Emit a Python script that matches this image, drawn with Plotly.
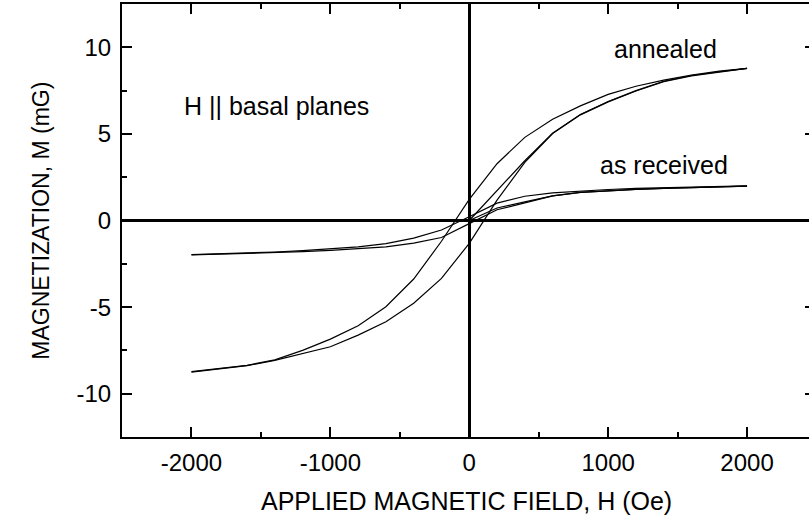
import plotly.graph_objects as go

# Applied field grid (Oe), descending sweep and ascending sweep
field_down = [2000, 1800, 1600, 1400, 1200, 1000, 800, 600, 400, 200, 0,
              -200, -400, -600, -800, -1000, -1200, -1400, -1600, -1800, -2000]
field_up = [-2000, -1800, -1600, -1400, -1200, -1000, -800, -600, -400, -200, 0,
            200, 400, 600, 800, 1000, 1200, 1400, 1600, 1800, 2000]
field_virgin = [0, 200, 400, 600, 800, 1000, 1200, 1400, 1600, 1800, 2000]

# Annealed sample magnetization (mG)
annealed_down = [8.78, 8.62, 8.40, 8.10, 7.75, 7.28, 6.62, 5.85, 4.80, 3.28, 1.22,
                 -1.20, -3.38, -4.98, -6.08, -6.85, -7.50, -8.05, -8.36, -8.56, -8.72]
annealed_up = [-8.76, -8.58, -8.38, -8.08, -7.70, -7.29, -6.62, -5.85, -4.78, -3.34, -1.32,
               1.18, 3.36, 5.02, 6.10, 6.85, 7.48, 8.02, 8.35, 8.58, 8.78]
annealed_virgin = [0.0, 1.75, 3.45, 5.04, 6.12, 6.87, 7.50, 8.04, 8.37, 8.59, 8.78]

# As-received sample magnetization (mG)
received_down = [2.00, 1.97, 1.94, 1.90, 1.85, 1.79, 1.71, 1.60, 1.40, 1.00, 0.22,
                 -0.55, -1.02, -1.33, -1.52, -1.65, -1.74, -1.82, -1.88, -1.93, -1.97]
received_up = [-1.99, -1.95, -1.91, -1.86, -1.80, -1.72, -1.63, -1.52, -1.31, -0.98, -0.18,
               0.62, 1.02, 1.42, 1.62, 1.72, 1.80, 1.86, 1.91, 1.95, 1.99]
received_virgin = [0.0, 0.72, 1.08, 1.42, 1.62, 1.72, 1.80, 1.86, 1.91, 1.95, 1.99]

# Tick positions and labels (plain hyphen for negatives)
x_tick_vals = [-2000, -1000, 0, 1000, 2000]
x_tick_text = ["-2000", "-1000", "0", "1000", "2000"]
y_tick_vals = [-10, -5, 0, 5, 10]
y_tick_text = ["-10", "-5", "0", "5", "10"]

FONT = "Liberation Sans, Arial, Helvetica, sans-serif"
LINE = dict(color="black", width=1.2)

fig = go.Figure()
curves = [
    (field_down, annealed_down), (field_up, annealed_up), (field_virgin, annealed_virgin),
    (field_down, received_down), (field_up, received_up), (field_virgin, received_virgin),
]
for xs, ys in curves:
    fig.add_trace(go.Scatter(x=xs, y=ys, mode="lines", line=LINE,
                             showlegend=False, hoverinfo="skip"))

# invisible trace to carry the right-hand tick axis
fig.add_trace(go.Scatter(x=[0], y=[0], yaxis="y2", mode="markers",
                         marker=dict(opacity=0), showlegend=False, hoverinfo="skip"))

fig.update_layout(
    width=809, height=520,
    margin=dict(l=122, r=0, t=4, b=83),
    paper_bgcolor="white", plot_bgcolor="white",
    font=dict(family=FONT, size=24, color="black"),
    xaxis=dict(
        range=[-2500, 2446], tickmode="array", tickvals=x_tick_vals, ticktext=x_tick_text,
        ticks="inside", ticklen=10, tickwidth=1.5, tickcolor="black",
        minor=dict(dtick=500, tick0=0, ticks="inside", ticklen=5, tickwidth=1.5,
                   tickcolor="black"),
        showline=True, linewidth=2, linecolor="black", mirror="ticks",
        zeroline=True, zerolinewidth=2.5, zerolinecolor="black",
        showgrid=False, tickfont=dict(size=24), ticklabelstandoff=3,
    ),
    yaxis=dict(
        range=[-12.5, 12.5], tickmode="array", tickvals=y_tick_vals, ticktext=y_tick_text,
        ticks="inside", ticklen=10, tickwidth=1.5, tickcolor="black",
        minor=dict(dtick=2.5, tick0=0, ticks="inside", ticklen=5, tickwidth=1.5,
                   tickcolor="black"),
        showline=True, linewidth=2, linecolor="black", mirror=False,
        zeroline=True, zerolinewidth=2.5, zerolinecolor="black",
        showgrid=False, tickfont=dict(size=24), ticklabelstandoff=4,
    ),
    yaxis2=dict(
        overlaying="y", side="right", anchor="x",
        range=[-12.5, 12.5], tickmode="array", tickvals=y_tick_vals,
        ticks="inside", ticklen=4, tickwidth=1.5, tickcolor="black",
        showticklabels=False, showline=False, showgrid=False, zeroline=False,
    ),
    annotations=[
        dict(text="APPLIED MAGNETIC FIELD, H (Oe)", xref="paper", yref="paper",
             x=0.502, y=-0.148, xanchor="center", yanchor="middle",
             showarrow=False, font=dict(size=25)),
        dict(text="MAGNETIZATION, M (mG)", xref="paper", yref="paper",
             x=-0.119, y=0.5, xanchor="center", yanchor="middle", textangle=-90,
             showarrow=False, font=dict(size=23)),
        dict(text="H || basal planes", x=-1388, y=6.6, xanchor="center", yanchor="middle",
             showarrow=False, font=dict(size=25)),
        dict(text="annealed", x=1410, y=9.9, xanchor="center", yanchor="middle",
             showarrow=False, font=dict(size=25)),
        dict(text="as received", x=1403, y=3.2, xanchor="center", yanchor="middle",
             showarrow=False, font=dict(size=25)),
    ],
)

fig.write_html("out.html")
